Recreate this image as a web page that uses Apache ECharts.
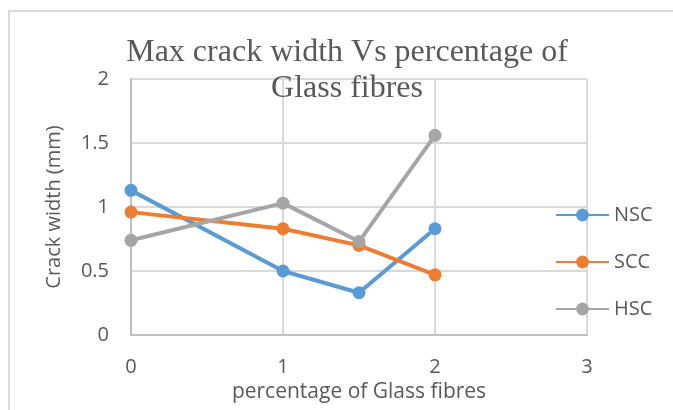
<!DOCTYPE html>
<html>
<head>
<meta charset="utf-8">
<script src="https://cdn.jsdelivr.net/npm/echarts@6/dist/echarts.min.js"></script>
<style>
html,body{margin:0;padding:0;background:#fff;}
#c{width:673px;height:410px;}
</style>
</head>
<body>
<div id="c"></div>
<script>
var fibrePercent = [0, 1, 1.5, 2];
var nscValues = [1.13, 0.50, 0.33, 0.83];
var sccValues = [0.96, 0.83, 0.70, 0.47];
var hscValues = [0.74, 1.03, 0.73, 1.56];
var seriesNames = ['NSC', 'SCC', 'HSC'];
var seriesColors = ['#5B9BD5', '#ED7D31', '#A5A5A5'];

function pairs(vals){ return fibrePercent.map(function(x,i){ return [x, vals[i]]; }); }

var chart = echarts.init(document.getElementById('c'), null, {renderer:'canvas'});
var font = '"Open Sans", Lato, sans-serif';
var allVals = [nscValues, sccValues, hscValues];
chart.setOption({
  animation:false,
  backgroundColor:'#ffffff',
  graphic:[{
    type:'rect', silent:true, z:-10,
    shape:{x:9, y:11, width:700, height:450},
    style:{fill:'none', stroke:'#d9d9d9', lineWidth:2}
  }],
  title:{
    text:'Max crack width Vs percentage of\nGlass fibres',
    left:342, top:30, textAlign:'center',
    textStyle:{fontFamily:'"Liberation Serif", "Times New Roman", serif', fontSize:32, fontWeight:'normal', color:'#595959', lineHeight:36}
  },
  legend:{
    orient:'vertical', left:555, top:205, padding:0,
    itemWidth:53, itemHeight:16, itemGap:27,
    textStyle:{fontFamily:font, fontSize:20, color:'#595959'},
    data:seriesNames
  },
  grid:{left:131, right:86, top:79, bottom:75},
  xAxis:{
    type:'value', min:0, max:3, interval:1,
    name:'percentage of Glass fibres', nameLocation:'middle', nameGap:47,
    nameTextStyle:{fontFamily:font, fontSize:21, color:'#595959'},
    axisLine:{show:true, lineStyle:{color:'#bfbfbf', width:2}},
    axisTick:{show:false},
    axisLabel:{fontFamily:font, fontSize:20, color:'#595959', margin:22},
    splitLine:{show:true, lineStyle:{color:'#d9d9d9', width:2}}
  },
  yAxis:{
    type:'value', min:0, max:2, interval:0.5,
    name:'Crack width (mm)', nameLocation:'middle', nameGap:67,
    nameTextStyle:{fontFamily:font, fontSize:20, color:'#595959'},
    axisLine:{show:true, lineStyle:{color:'#bfbfbf', width:2}},
    axisTick:{show:false},
    axisLabel:{fontFamily:font, fontSize:20, color:'#595959', margin:22},
    splitLine:{show:true, lineStyle:{color:'#d9d9d9', width:2}}
  },
  series: seriesNames.map(function(n,i){
    return {
      name:n, type:'line', data:pairs(allVals[i]),
      symbol:'circle', symbolSize:13,
      lineStyle:{color:seriesColors[i], width:4},
      itemStyle:{color:seriesColors[i]}
    };
  })
});
</script>
</body>
</html>
